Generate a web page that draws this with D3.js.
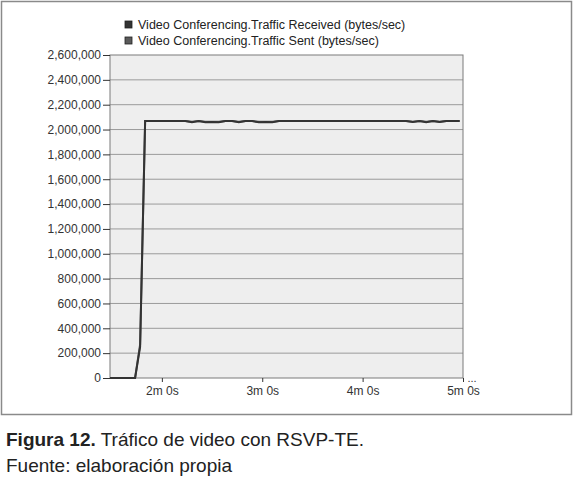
<!DOCTYPE html>
<html>
<head>
<meta charset="utf-8">
<script src="https://cdn.jsdelivr.net/npm/d3@7"></script>
<style>
  body { margin: 0; background: #fff; }
  text { font-family: "Liberation Sans", Arial, sans-serif; }
</style>
</head>
<body>
<script>
// traffic of the video conferencing app, sampled in seconds
var times = [89, 93, 97, 101, 104, 107, 110, 114, 118, 122, 126, 130, 134, 138, 142, 146,
  150, 154, 158, 162, 166, 170, 174, 178, 182, 186, 190, 194, 198, 202, 206, 210, 214,
  218, 222, 226, 230, 234, 238, 242, 246, 250, 254, 258, 262, 266, 270, 274, 278, 282,
  286, 290, 294, 298];

var received = [0, 0, 0, 0, 0, 250000, 2068000, 2068000, 2068000, 2068000, 2068000, 2068000,
  2068000, 2059000, 2068000, 2059000, 2060000, 2059000, 2068000, 2068000, 2059000, 2068000,
  2068000, 2059000, 2060000, 2059000, 2068000, 2068000, 2068000, 2068000, 2068000, 2068000,
  2068000, 2068000, 2068000, 2068000, 2068000, 2068000, 2068000, 2068000, 2068000, 2068000,
  2068000, 2068000, 2068000, 2068000, 2060000, 2068000, 2059000, 2068000, 2060000, 2068000,
  2068000, 2068000];

var sent = [0, 0, 0, 0, 0, 270000, 2069000, 2069000, 2069000, 2069000, 2069000, 2069000,
  2069000, 2062000, 2069000, 2062000, 2063000, 2062000, 2069000, 2069000, 2062000, 2069000,
  2069000, 2062000, 2062000, 2063000, 2069000, 2069000, 2069000, 2069000, 2069000, 2069000,
  2069000, 2069000, 2069000, 2069000, 2069000, 2069000, 2069000, 2069000, 2069000, 2069000,
  2069000, 2069000, 2069000, 2069000, 2062000, 2069000, 2062000, 2069000, 2062000, 2069000,
  2069000, 2069000];

var seriesNames = ['Video Conferencing.Traffic Received (bytes/sec)',
  'Video Conferencing.Traffic Sent (bytes/sec)'];
var seriesColors = ['#333333', '#5a5a5a'];

var yTicks = [0, 200000, 400000, 600000, 800000, 1000000, 1200000, 1400000, 1600000,
  1800000, 2000000, 2200000, 2400000, 2600000];
var xTicks = [120, 180, 240, 300];
var xTickLabels = ['2m 0s', '3m 0s', '4m 0s', '5m 0s'];

var width = 574, height = 484;
var plotLeft = 110, plotRight = 463, plotTop = 55, plotBottom = 378;

var svg = d3.select('body').append('svg')
    .attr('width', width)
    .attr('height', height);

// outer frame
svg.append('rect')
    .attr('x', 1.5).attr('y', 1.5)
    .attr('width', 570).attr('height', 413)
    .attr('fill', '#fff')
    .attr('stroke', '#8a8a8a')
    .attr('stroke-width', 1.5);

var x = d3.scaleLinear().domain([89, 300]).range([plotLeft, plotRight]);
var y = d3.scaleLinear().domain([0, 2600000]).range([plotBottom, plotTop]);

// plot background
svg.append('rect')
    .attr('x', plotLeft).attr('y', plotTop)
    .attr('width', plotRight - plotLeft).attr('height', plotBottom - plotTop)
    .attr('fill', '#eeeeee');

// grid
svg.append('g').selectAll('line')
    .data(yTicks.slice(1, -1))
  .enter().append('line')
    .attr('x1', plotLeft).attr('x2', plotRight)
    .attr('y1', function(d){ return y(d); })
    .attr('y2', function(d){ return y(d); })
    .attr('stroke', '#9a9a9a')
    .attr('stroke-width', 1);

// plot border
svg.append('rect')
    .attr('x', plotLeft).attr('y', plotTop)
    .attr('width', plotRight - plotLeft).attr('height', plotBottom - plotTop)
    .attr('fill', 'none')
    .attr('stroke', '#7a7a7a')
    .attr('stroke-width', 1);

var yAxis = svg.append('g')
    .attr('transform', 'translate(' + plotLeft + ',0)')
    .call(d3.axisLeft(y).tickValues(yTicks).tickSize(7).tickPadding(2)
      .tickFormat(d3.format(',')));

var xAxis = svg.append('g')
    .attr('transform', 'translate(0,' + plotBottom + ')')
    .call(d3.axisBottom(x).tickValues(xTicks).tickSize(4).tickPadding(4)
      .tickFormat(function(d, i){ return xTickLabels[i]; }));

[yAxis, xAxis].forEach(function(ax){
  ax.select('.domain').remove();
  ax.selectAll('line').attr('stroke', '#333');
  ax.selectAll('text')
      .attr('fill', '#333')
      .style('font-size', '12px')
      .style('font-family', '"Liberation Sans", Arial, sans-serif');
});

// little ellipsis after the last time label
svg.append('text')
    .attr('x', x(300) + 9).attr('y', plotBottom + 4)
    .attr('text-anchor', 'middle')
    .attr('fill', '#333')
    .style('font-size', '11px')
    .text('...');

var line = d3.line()
    .x(function(d){ return x(d.t); })
    .y(function(d){ return y(d.v); });

var sentData = times.map(function(t, i){ return {t: t, v: sent[i]}; });
var recvData = times.map(function(t, i){ return {t: t, v: received[i]}; });

svg.append('path')
    .datum(sentData)
    .attr('d', line)
    .attr('fill', 'none')
    .attr('stroke', seriesColors[1])
    .attr('stroke-width', 2);

svg.append('path')
    .datum(recvData)
    .attr('d', line)
    .attr('fill', 'none')
    .attr('stroke', seriesColors[0])
    .attr('stroke-width', 2);

// legend
var legend = svg.append('g').selectAll('g')
    .data(seriesNames)
  .enter().append('g')
    .attr('transform', function(d, i){ return 'translate(125,' + (21 + i * 16) + ')'; });

legend.append('rect')
    .attr('width', 7).attr('height', 7)
    .attr('fill', function(d, i){ return seriesColors[i]; })
    .attr('stroke', '#222')
    .attr('stroke-width', 0.8);

legend.append('text')
    .attr('x', 13).attr('y', 7.5)
    .attr('fill', '#222')
    .style('font-size', '12.5px')
    .text(function(d){ return d; });

// caption under the frame
var cap = svg.append('text')
    .attr('x', 6).attr('y', 446)
    .attr('fill', '#222')
    .style('font-size', '19px');
cap.append('tspan').style('font-weight', 'bold').text('Figura 12.');
cap.append('tspan').text(' Tráfico de video con RSVP-TE.');

svg.append('text')
    .attr('x', 6).attr('y', 472)
    .attr('fill', '#222')
    .style('font-size', '19px')
    .text('Fuente: elaboración propia');
</script>
</body>
</html>
